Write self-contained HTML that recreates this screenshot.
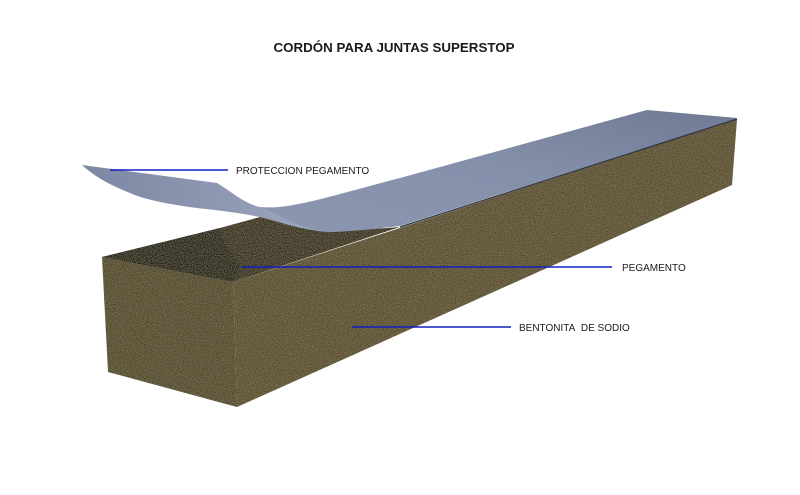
<!DOCTYPE html>
<html><head><meta charset="utf-8"><style>
html,body{margin:0;padding:0;background:#fff;}
svg{display:block;}
text{font-family:"Liberation Sans",Arial,sans-serif;}
</style></head><body>
<svg width="800" height="495" viewBox="0 0 800 495" xmlns="http://www.w3.org/2000/svg">
<defs>
<filter id="grain" x="0" y="0" width="100%" height="100%">
<feTurbulence type="fractalNoise" baseFrequency="0.9" numOctaves="2" seed="3" result="n"/>
<feColorMatrix in="n" type="matrix" values="0 0 0 0 0.75  0 0 0 0 0.68  0 0 0 0 0.45  0 0 0 0.35 -0.1" result="a"/>
<feComposite in="a" in2="SourceGraphic" operator="in" result="m"/>
<feMerge><feMergeNode in="SourceGraphic"/><feMergeNode in="m"/></feMerge>
</filter>
<linearGradient id="strip" x1="0" y1="1" x2="1" y2="0">
<stop offset="0" stop-color="#8c96b0"/><stop offset="0.5" stop-color="#8590ab"/><stop offset="1" stop-color="#6f7a95"/>
</linearGradient>
<linearGradient id="flap" x1="0" y1="0" x2="1" y2="0">
<stop offset="0" stop-color="#7c87a3"/><stop offset="0.6" stop-color="#8f99b3"/><stop offset="1" stop-color="#a0a9c0"/>
</linearGradient>
</defs>
<text x="394" y="52" font-size="12.5" font-weight="bold" text-anchor="middle" fill="#1a1a1a" textLength="241" lengthAdjust="spacingAndGlyphs">CORDÓN PARA JUNTAS SUPERSTOP</text>

<!-- long side face -->
<polygon points="233,282 737,119 732,185 237,407" fill="#554a2c" filter="url(#grain)"/>
<!-- front face -->
<polygon points="102,257 233,282 237,407 108,372" fill="#4e4428" filter="url(#grain)"/>
<!-- top face (exposed) -->
<polygon points="102,257 220,228 260,217 330,232 400,227 233,282" fill="#2e2818" filter="url(#grain)"/>
<polygon points="102,257 220,228 225,245 240,265 233,282" fill="#16130a" filter="url(#grain)"/>
<!-- strip flat portion -->
<path d="M737,118 L647,110 L400,178 C330,196 290,210 260,207 C290,222 310,232 330,232 C360,231 380,228 400,226 L733,120 Z" fill="url(#strip)"/>
<!-- strip lifting flap -->
<path d="M82,165 L217,183 C232,192 245,204 260,207 C285,220 310,231 330,232 C300,230 280,222 260,217 C235,212 215,210 197,208 C165,204 140,198 130,193 C110,185 95,177 82,165 Z" fill="url(#flap)"/>
<line x1="737" y1="119" x2="400" y2="227" stroke="#2e3442" stroke-width="1.2"/>

<!-- leader lines -->
<g stroke="#1020c0" stroke-width="1.6">
<line x1="110" y1="170" x2="228" y2="170"/>
<line x1="242" y1="267" x2="612" y2="267"/>
<line x1="352" y1="327" x2="511" y2="327"/>
</g>
<g font-size="10" fill="#1a1a1a">
<text x="236" y="174">PROTECCION PEGAMENTO</text>
<text x="622" y="271">PEGAMENTO</text>
<text x="519" y="331">BENTONITA&#160; DE SODIO</text>
</g>
</svg>
</body></html>
